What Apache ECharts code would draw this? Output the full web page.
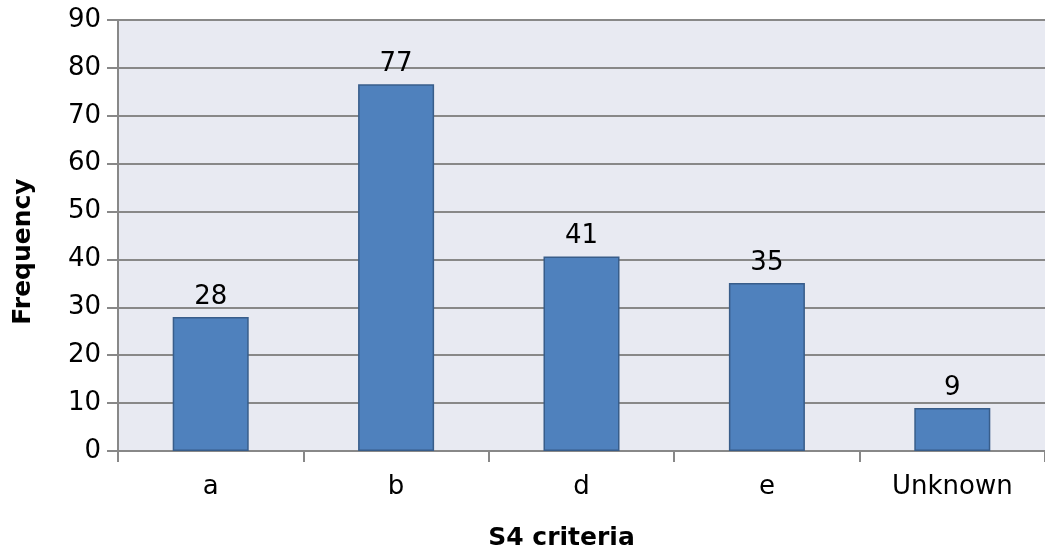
<!DOCTYPE html>
<html>
<head>
<meta charset="utf-8">
<script src="https://cdn.jsdelivr.net/npm/echarts@6/dist/echarts.min.js"></script>
<style>
  html, body { margin: 0; padding: 0; background: #fff; }
  #main { width: 1045px; height: 551px; }
</style>
</head>
<body>
<div id="main"></div>
<script>
(function () {
  // S4 criteria frequency
  var categories = ['a', 'b', 'd', 'e', 'Unknown'];
  var counts = [28, 76.6, 40.6, 35.1, 9];
  var yTicks = [0, 90, 10];   // min, max, step

  var myChart = echarts.init(document.getElementById('main'));
  var font = 'DejaVu Sans';
  var option = {
    animation: false,
    textStyle: { fontFamily: font },
    grid: {
      left: 118,
      right: 0,
      top: 20,
      bottom: 100,
      outerBoundsMode: 'none',
      containLabel: false,
      show: true,
      backgroundColor: '#E8EAF2',
      borderWidth: 0
    },
    xAxis: {
      type: 'category',
      data: categories,
      name: 'S4 criteria',
      nameLocation: 'middle',
      nameGap: 75,
      nameTextStyle: { color: '#000', fontSize: 25, fontWeight: 'bold', fontFamily: font, padding: [0, 40, 0, 0] },
      axisLine: { lineStyle: { color: '#888', width: 2 } },
      axisTick: { show: true, length: 11, lineStyle: { color: '#888', width: 2 } },
      axisLabel: { color: '#000', fontSize: 26, margin: 23, fontFamily: font }
    },
    yAxis: {
      type: 'value',
      min: yTicks[0],
      max: yTicks[1],
      interval: yTicks[2],
      name: 'Frequency',
      nameLocation: 'middle',
      nameGap: 82,
      nameRotate: 90,
      nameTextStyle: { color: '#000', fontSize: 25, fontWeight: 'bold', fontFamily: font, padding: [0, 32, 0, 0] },
      axisLine: { show: true, lineStyle: { color: '#888', width: 2 } },
      axisTick: { show: true, length: 11, lineStyle: { color: '#888', width: 2 } },
      axisLabel: { color: '#000', fontSize: 26, margin: 17, fontFamily: font },
      splitLine: { show: true, lineStyle: { color: '#888', width: 2 } }
    },
    series: [
      {
        type: 'bar',
        data: counts,
        barWidth: '41%',
        itemStyle: {
          color: '#4F81BD',
          borderColor: '#385D8A',
          borderWidth: 1.5
        },
        label: {
          show: true,
          position: 'top',
          distance: 7,
          color: '#000',
          fontSize: 26,
          fontFamily: font,
          formatter: function (p) { return Math.round(p.value); }
        }
      }
    ]
  };
  myChart.setOption(option);
})();
</script>
</body>
</html>
